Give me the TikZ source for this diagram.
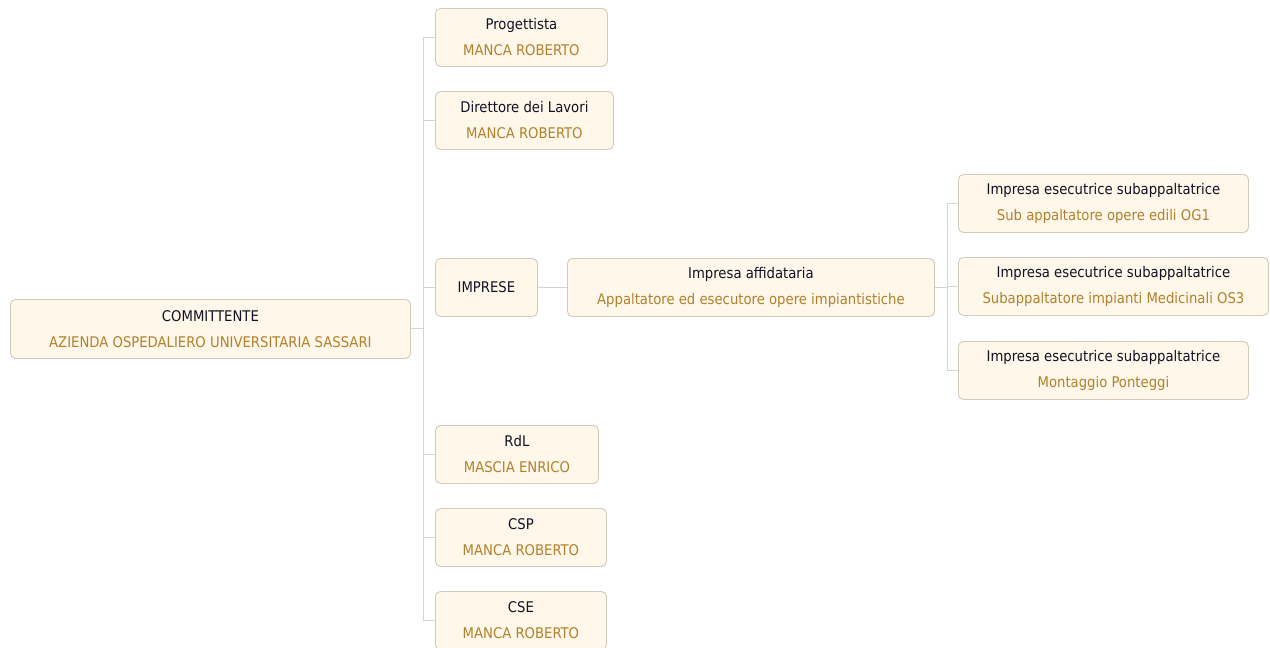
\documentclass[tikz,border=0pt]{standalone}
\usepackage{fontspec}
\setmainfont{DejaVu Sans Condensed}
\definecolor{boxfill}{HTML}{FFF8EA}
\definecolor{boxline}{HTML}{D2CABB}
\definecolor{connline}{HTML}{D4D4D4}
\definecolor{subtxt}{HTML}{B0802C}
\definecolor{titletxt}{HTML}{111122}
\begin{document}
\begin{tikzpicture}[x=1pt,y=-1pt,
  card/.style={draw=boxline, line width=0.9pt, fill=boxfill, rounded corners=5pt,
    anchor=north west, minimum height=58pt, inner sep=0pt, align=center,
    font=\fontsize{14.7}{26}\selectfont, text=titletxt},
  conn/.style={draw=connline, line width=1pt}]
\useasboundingbox (0,0) rectangle (1270,648);
\node[card, minimum width=400pt, minimum height=59pt] (comm) at (10,299) {COMMITTENTE\\{\color{subtxt}AZIENDA OSPEDALIERO UNIVERSITARIA SASSARI}};
\node[card, minimum width=172pt] (prog) at (435,8) {Progettista\\{\color{subtxt}MANCA ROBERTO}};
\node[card, minimum width=178pt] (dir) at (435,91) {Direttore dei Lavori\\{\color{subtxt}MANCA ROBERTO}};
\node[card, minimum width=102pt] (imp) at (435,258) {IMPRESE};
\node[card, minimum width=367pt] (aff) at (567,258) {Impresa affidataria\\{\color{subtxt}Appaltatore ed esecutore opere impiantistiche}};
\node[card, minimum width=290pt] (s1) at (958,174) {Impresa esecutrice subappaltatrice\\{\color{subtxt}Sub appaltatore opere edili OG1}};
\node[card, minimum width=310pt] (s2) at (958,257) {Impresa esecutrice subappaltatrice\\{\color{subtxt}Subappaltatore impianti Medicinali OS3}};
\node[card, minimum width=290pt] (s3) at (958,341) {Impresa esecutrice subappaltatrice\\{\color{subtxt}Montaggio Ponteggi}};
\node[card, minimum width=163pt] (rdl) at (435,425) {RdL\\{\color{subtxt}MASCIA ENRICO}};
\node[card, minimum width=171pt] (csp) at (435,508) {CSP\\{\color{subtxt}MANCA ROBERTO}};
\node[card, minimum width=171pt] (cse) at (435,591) {CSE\\{\color{subtxt}MANCA ROBERTO}};
\coordinate (bus) at (423,0);
\coordinate (bus2) at (947,0);
\draw[conn] (comm.east) -- (comm.east -| bus);
\draw[conn] (bus |- prog.west) -- (bus |- cse.west);
\foreach \n in {prog,dir,imp,rdl,csp,cse} \draw[conn] (bus |- \n.west) -- (\n.west);
\draw[conn] (imp.east) -- (aff.west);
\draw[conn] (aff.east) -- (aff.east -| bus2);
\draw[conn] (bus2 |- s1.west) -- (bus2 |- s3.west);
\foreach \n in {s1,s2,s3} \draw[conn] (bus2 |- \n.west) -- (\n.west);
\end{tikzpicture}
\end{document}
